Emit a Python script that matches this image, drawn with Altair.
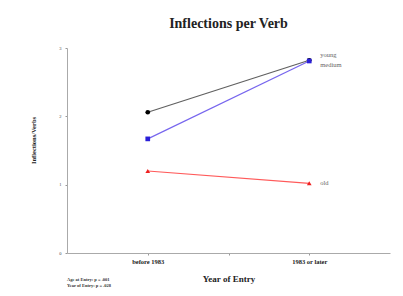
import altair as alt
import pandas as pd

groups = ["young", "young", "medium", "medium", "old", "old"]
periods = [1, 3, 1, 3, 1, 3]
values = [2.06, 2.82, 1.67, 2.81, 1.20, 1.02]
shapes = ["circle", "circle", "square", "square", "triangle-up", "triangle-up"]

label_groups = ["young", "medium", "old"]
label_x = [3, 3, 3]
label_y = [2.82, 2.81, 1.02]
label_dy = [-5, 4, 0]

notes = ["Age at Entry:  p = .001", "Year of Entry:  p = .028"]
note_y = [232, 238]

df = pd.DataFrame({"group": groups, "period": periods, "value": values, "shape": shapes})

line_colors = alt.Scale(domain=["young", "medium", "old"], range=["#606060", "#7766ee", "#ff5a5a"])
pt_colors = alt.Scale(domain=["young", "medium", "old"], range=["#000000", "#2a1fd8", "#ee2020"])

xscale = alt.Scale(domain=[0, 4], nice=False, zero=False)
yscale = alt.Scale(domain=[0, 3], nice=False)

xaxis = alt.Axis(
    values=[1, 2, 3],
    labelExpr="datum.value == 1 ? 'before 1983' : (datum.value == 3 ? '1983 or later' : '')",
    title="Year of Entry",
    titleFont="Liberation Serif", titleFontSize=9, titleFontWeight="bold", titleColor="#222",
    titlePadding=10,
    labelFont="Liberation Serif", labelFontSize=6.5, labelFontWeight="bold", labelColor="#222",
    labelPadding=3, tickSize=2, tickColor="#999", domainColor="#aaa", grid=False,
)
yaxis = alt.Axis(
    values=[0, 0.5, 1, 1.5, 2, 2.5, 3],
    labelExpr="datum.value % 1 == 0 ? format(datum.value, 'd') : ''",
    title="Inflections/Verbs",
    titleFont="Liberation Serif", titleFontSize=6.5, titleFontWeight="bold", titleColor="#222",
    titlePadding=22, titleY=92,
    labelFont="Liberation Serif", labelFontSize=4.5, labelColor="#444",
    labelPadding=4, tickSize=2, tickColor="#999", domainColor="#aaa", grid=False,
)

base = alt.Chart(df)
lines = base.mark_line(strokeWidth=1.2).encode(
    x=alt.X("period:Q", scale=xscale, axis=xaxis),
    y=alt.Y("value:Q", scale=yscale, axis=yaxis),
    color=alt.Color("group:N", scale=line_colors, legend=None),
    detail="group:N",
)
points = base.mark_point(filled=True, size=22, opacity=1).encode(
    x=alt.X("period:Q", scale=xscale),
    y=alt.Y("value:Q", scale=yscale),
    fill=alt.Fill("group:N", scale=pt_colors, legend=None),
    shape=alt.Shape("shape:N", scale=None),
)

label_layers = []
for g, lx, ly, ldy in zip(label_groups, label_x, label_y, label_dy):
    d = pd.DataFrame({"group": [g], "period": [lx], "value": [ly]})
    label_layers.append(
        alt.Chart(d).mark_text(
            align="left", baseline="middle", dx=11, dy=ldy,
            font="Liberation Serif", fontSize=6.5, color="#666",
        ).encode(
            x=alt.X("period:Q", scale=xscale),
            y=alt.Y("value:Q", scale=yscale),
            text="group:N",
        )
    )

note_layers = []
for n, ny in zip(notes, note_y):
    d = pd.DataFrame({"note": [n]})
    note_layers.append(
        alt.Chart(d).mark_text(
            align="left", baseline="middle", font="Liberation Serif", fontSize=4.5,
            fontWeight="bold", color="#333",
        ).encode(x=alt.value(0), y=alt.value(ny), text="note:N")
    )

chart = alt.layer(lines, points, *label_layers, *note_layers).properties(
    width=323, height=205,
    padding={"left": 59, "top": 40, "right": 5, "bottom": 35},
    autosize=alt.AutoSizeParams(type="none"),
    title=alt.TitleParams(
        "Inflections per Verb", font="Liberation Serif", fontSize=14, fontWeight="bold",
        color="#222", anchor="middle", offset=14,
    ),
    background="white",
).configure_view(stroke=None)

chart.save("out.html", embed_options={"renderer": "svg", "actions": False})
